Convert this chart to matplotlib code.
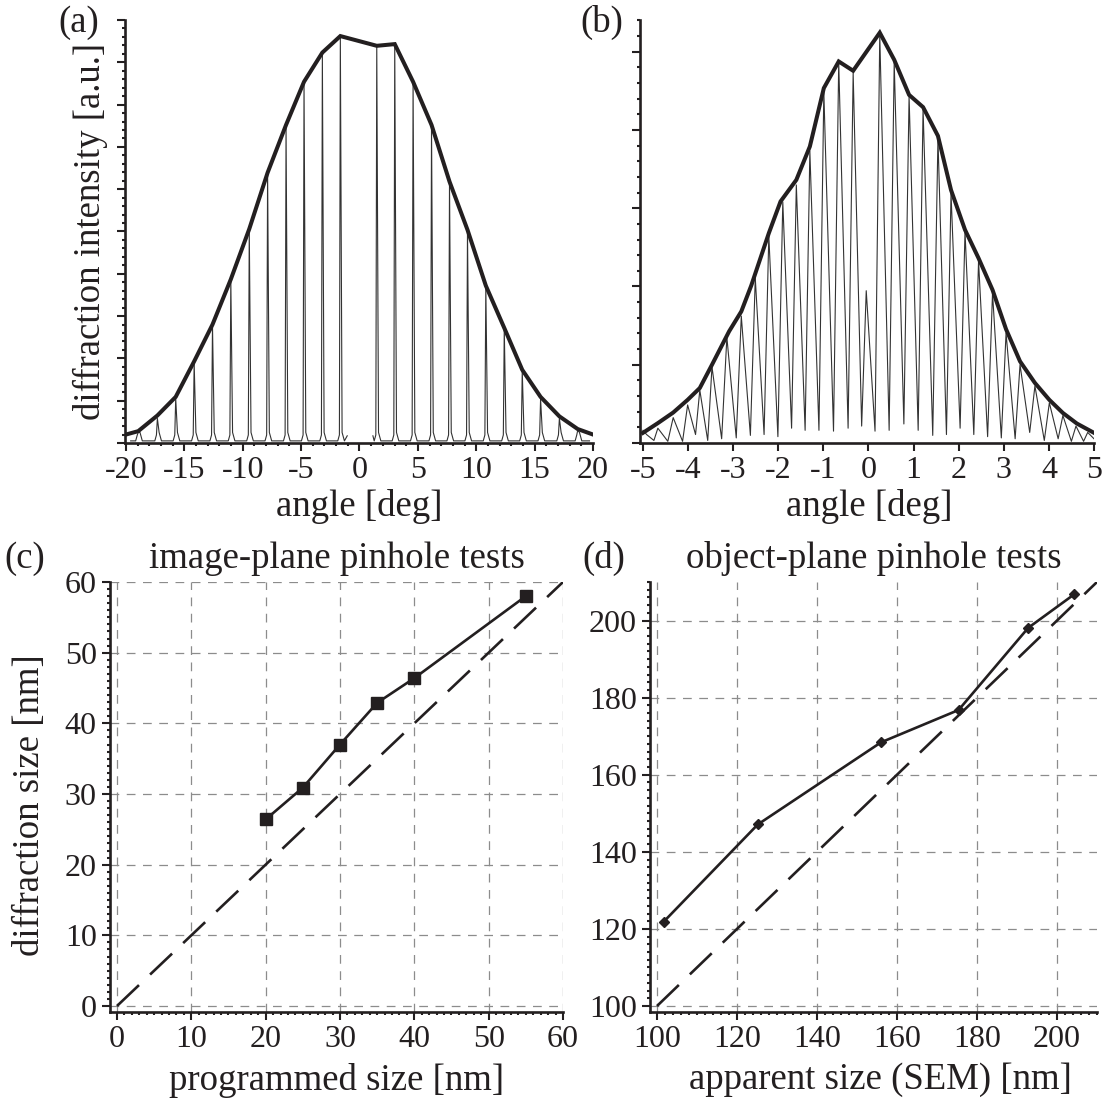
import matplotlib
matplotlib.use('Agg')
import matplotlib.pyplot as plt
from matplotlib.ticker import MultipleLocator, FixedLocator, NullFormatter
import numpy as np

plt.rcParams['font.family'] = ['Liberation Serif', 'DejaVu Serif']
plt.rcParams['axes.unicode_minus'] = False

INK = '#231f20'

# ---------------- data ----------------
# (a) envelope through diffraction peaks
env_a_x = [-20.0, -18.95, -17.31, -15.74, -14.16, -12.59, -11.02, -9.44, -7.87, -6.29,
           -4.75, -3.18, -1.64, 1.48, 3.02, 4.59, 6.17, 7.71, 9.25, 10.82, 12.40,
           13.94, 15.51, 17.12, 18.69, 20.0]
env_a_y = [0.020, 0.028, 0.065, 0.109, 0.193, 0.280, 0.387, 0.506, 0.639, 0.752,
           0.854, 0.923, 0.962, 0.939, 0.943, 0.854, 0.752, 0.618, 0.504, 0.372, 0.272,
           0.173, 0.109, 0.063, 0.033, 0.020]
# (a) raw trace peaks (left and right of the blocked centre)
peak_a_left_x = [-18.95, -17.31, -15.74, -14.16, -12.59, -11.02, -9.44, -7.87, -6.29, -4.75, -3.18, -1.64]
peak_a_left_h = [0.025, 0.058, 0.105, 0.190, 0.278, 0.385, 0.505, 0.637, 0.750, 0.852, 0.921, 0.960]
peak_a_right_x = [1.48, 3.02, 4.59, 6.17, 7.71, 9.25, 10.82, 12.40, 13.94, 15.51, 17.12, 18.69]
peak_a_right_h = [0.937, 0.941, 0.852, 0.750, 0.616, 0.502, 0.370, 0.270, 0.170, 0.104, 0.058, 0.030]
base_a = 0.005
gap_a_x = [-1.05, 1.15]
gap_a_y = [0.017, 0.017]
ends_a_x = [-19.6, 19.7]

# (b) envelope
env_b_x = [-5.00, -4.67, -4.33, -4.01, -3.74, -3.47, -3.09, -2.82, -2.60, -2.21, -1.95,
           -1.60, -1.30, -0.99, -0.66, -0.34, 0.25, 0.57, 0.90, 1.21, 1.54, 1.83, 2.14,
           2.44, 2.75, 3.05, 3.36, 3.69, 4.01, 4.31, 4.62, 5.00]
env_b_y = [0.024, 0.047, 0.072, 0.102, 0.130, 0.185, 0.264, 0.311, 0.372, 0.496, 0.571,
           0.622, 0.701, 0.839, 0.902, 0.880, 0.970, 0.906, 0.823, 0.794, 0.726, 0.598, 0.504,
           0.437, 0.362, 0.269, 0.193, 0.142, 0.102, 0.071, 0.046, 0.024]
# (b) raw trace peaks and valleys
peak_b_x = [-4.92, -4.67, -4.33, -4.01, -3.74, -3.47, -3.14, -2.82, -2.51, -2.21, -1.90,
            -1.60, -1.30, -0.99, -0.66, -0.34, -0.05, 0.25, 0.57, 0.90, 1.21, 1.54, 1.83,
            2.14, 2.44, 2.75, 3.05, 3.36, 3.69, 4.01, 4.31, 4.60, 4.86]
peak_b_h = [0.020, 0.035, 0.060, 0.090, 0.125, 0.180, 0.250, 0.300, 0.390, 0.490, 0.570,
            0.610, 0.690, 0.830, 0.900, 0.875, 0.360, 0.965, 0.900, 0.820, 0.790, 0.720, 0.590,
            0.500, 0.430, 0.355, 0.260, 0.185, 0.135, 0.095, 0.065, 0.040, 0.025]
valley_b_y = [0.006, 0.004, 0.004, 0.020, 0.006, 0.010, 0.012, 0.018, 0.020, 0.015, 0.035,
              0.030, 0.030, 0.028, 0.035, 0.040, 0.028, 0.030, 0.045, 0.030, 0.018, 0.020,
              0.035, 0.020, 0.015, 0.012, 0.010, 0.025, 0.006, 0.010, 0.004, 0.004]
ends_b_x = [-5.0, 5.0]
ends_b_y = [0.030, 0.010]

# (c) image-plane pinhole tests
prog_size = [20, 25, 30, 35, 40, 55]
diff_size_c = [26.4, 30.9, 37.0, 42.9, 46.4, 58.0]
ident_c = [0, 60]

# (d) object-plane pinhole tests
sem_size = [101.7, 125.2, 156.0, 175.4, 192.8, 204.3]
diff_size_d = [121.9, 147.1, 168.4, 176.8, 198.1, 206.8]
ident_d = [100, 210]

# ---------------- layout ----------------
W, H = 1103, 1100
fig = plt.figure(figsize=(W / 100, H / 100), dpi=100)
fig.patch.set_facecolor('white')


def box(l, r, t, b):
    return [l / W, 1 - b / H, (r - l) / W, (b - t) / H]


A = (124.8, 593, 20, 443)
B = (640, 1094, 20, 443)
C = (110, 563, 582, 1012)
D = (650, 1097, 582, 1012)
axa = fig.add_axes(box(*A))
axb = fig.add_axes(box(*B))
axc = fig.add_axes(box(*C))
axd = fig.add_axes(box(*D))


def ax_xy(rect, px, py):
    l, r, t, b = rect
    return (px - l) / (r - l), (b - py) / (b - t)


LAB = 26.5
TCK = 23

for ax in (axa, axb, axc, axd):
    for s in ('top', 'right'):
        ax.spines[s].set_visible(False)
    for s in ('left', 'bottom'):
        ax.spines[s].set_linewidth(1.9)
        ax.spines[s].set_color(INK)
    ax.tick_params(which='both', direction='out', top=False, right=False,
                   color=INK, labelcolor=INK, width=1.5)
    ax.tick_params(which='major', length=5.5, labelsize=TCK, pad=4)
    ax.tick_params(which='minor', length=2.5)
    ax.set_facecolor('none')

# ---- (a) ----
def comb(px, ph, x0, x1, y0, y1):
    xs = [x0]
    ys = [y0]
    for p, h in zip(px, ph):
        xs += [p - 0.22, p - 0.08, p, p + 0.15, p + 0.35]
        ys += [base_a, base_a + 0.014, h, base_a + 0.02, base_a]
    xs.append(x1)
    ys.append(y1)
    return xs, ys

lx, ly = comb(peak_a_left_x, peak_a_left_h, ends_a_x[0], gap_a_x[0], base_a, gap_a_y[0])
rx, ry = comb(peak_a_right_x, peak_a_right_h, gap_a_x[1], ends_a_x[1], gap_a_y[1], base_a)
axa.plot(lx, ly, color='#333333', lw=0.8)
axa.plot(rx, ry, color='#333333', lw=0.8)
axa.plot(env_a_x, env_a_y, color=INK, lw=2.9, solid_joinstyle='miter')
axa.set_xlim(-20.1, 20)
axa.set_ylim(0, 1)
axa.xaxis.set_major_locator(MultipleLocator(5))
axa.xaxis.set_minor_locator(MultipleLocator(1))
axa.yaxis.set_major_locator(MultipleLocator(0.1))
axa.yaxis.set_minor_locator(MultipleLocator(0.02))
axa.yaxis.set_major_formatter(NullFormatter())
axa.set_xlabel('angle [deg]', fontsize=LAB, color=INK, va='center')
axa.xaxis.set_label_coords(0.5, ax_xy(A, 0, 507)[1])
axa.set_ylabel('diffraction intensity [a.u.]', fontsize=LAB, color=INK, va='center')
axa.yaxis.set_label_coords(ax_xy(A, 90, 0)[0], 0.5)

# ---- (b) ----
bx = [ends_b_x[0]]
by = [ends_b_y[0]]
for i, (p, h) in enumerate(zip(peak_b_x, peak_b_h)):
    bx.append(p)
    by.append(h)
    if i < len(valley_b_y):
        q = peak_b_x[i + 1]
        bx.append(p + 0.65 * (q - p))
        by.append(valley_b_y[i])
bx.append(ends_b_x[1])
by.append(ends_b_y[1])
axb.plot(bx, by, color='#333333', lw=0.8)
axb.plot(env_b_x, env_b_y, color=INK, lw=2.9, solid_joinstyle='miter')
axb.set_xlim(-5.066, 5)
axb.set_ylim(0, 1)
axb.xaxis.set_major_locator(MultipleLocator(1))
axb.yaxis.set_major_locator(FixedLocator([0, 0.185, 0.37, 0.555, 0.74, 0.925]))
axb.yaxis.set_minor_locator(MultipleLocator(0.037))
axb.yaxis.set_major_formatter(NullFormatter())
axb.set_xlabel('angle [deg]', fontsize=LAB, color=INK, va='center')
axb.xaxis.set_label_coords(ax_xy(B, 869, 0)[0], ax_xy(B, 0, 507)[1])

# ---- (c) ----
grid_kw = dict(color='#8c8c8c', lw=0.9, linestyle=(0, (7, 6)))
axc.grid(True, which='major', **grid_kw)
axc.set_axisbelow(True)
axc.plot(ident_c, ident_c, color=INK, lw=1.9, dashes=(11.5, 5.8))
axc.plot(prog_size, diff_size_c, color=INK, lw=1.9, marker='s', ms=8.5,
         mfc=INK, mec=INK)
axc.set_xlim(-0.94, 60)
axc.set_ylim(-0.85, 60)
axc.xaxis.set_major_locator(MultipleLocator(10))
axc.xaxis.set_minor_locator(MultipleLocator(1))
axc.yaxis.set_major_locator(MultipleLocator(10))
axc.yaxis.set_minor_locator(MultipleLocator(1))
axc.set_xlabel('programmed size [nm]', fontsize=LAB, color=INK, va='center')
axc.xaxis.set_label_coords(0.5, ax_xy(C, 0, 1080)[1])
axc.set_ylabel('diffraction size [nm]', fontsize=LAB, color=INK, va='center')
axc.yaxis.set_label_coords(ax_xy(C, 30, 0)[0], 0.48)
axc.set_title('image-plane pinhole tests', fontsize=LAB, color=INK,
              y=ax_xy(C, 0, 568)[1], pad=0)

# ---- (d) ----
axd.grid(True, which='major', **grid_kw)
axd.set_axisbelow(True)
axd.plot(ident_d, ident_d, color=INK, lw=1.9, dashes=(11.5, 5.8))
axd.plot(sem_size, diff_size_d, color=INK, lw=1.9, marker='D', ms=5.5,
         mfc=INK, mec=INK)
axd.set_xlim(98.25, 210)
axd.set_ylim(98.45, 210)
axd.xaxis.set_major_locator(MultipleLocator(20))
axd.xaxis.set_minor_locator(MultipleLocator(2))
axd.yaxis.set_major_locator(MultipleLocator(20))
axd.yaxis.set_minor_locator(MultipleLocator(2))
axd.set_xlabel('apparent size (SEM) [nm]', fontsize=LAB, color=INK, va='center')
axd.xaxis.set_label_coords(ax_xy(D, 880, 0)[0], ax_xy(D, 0, 1080)[1])
axd.set_title('object-plane pinhole tests', fontsize=LAB, color=INK,
              y=ax_xy(D, 0, 568)[1], pad=0)

# panel letters
for txt, px, py in [('(a)', 79, 32), ('(b)', 602, 32), ('(c)', 25, 568), ('(d)', 604, 568)]:
    fig.text(px / W, 1 - py / H, txt, fontsize=LAB, color=INK, ha='center', va='baseline')

fig.savefig('out.png', dpi=100)
